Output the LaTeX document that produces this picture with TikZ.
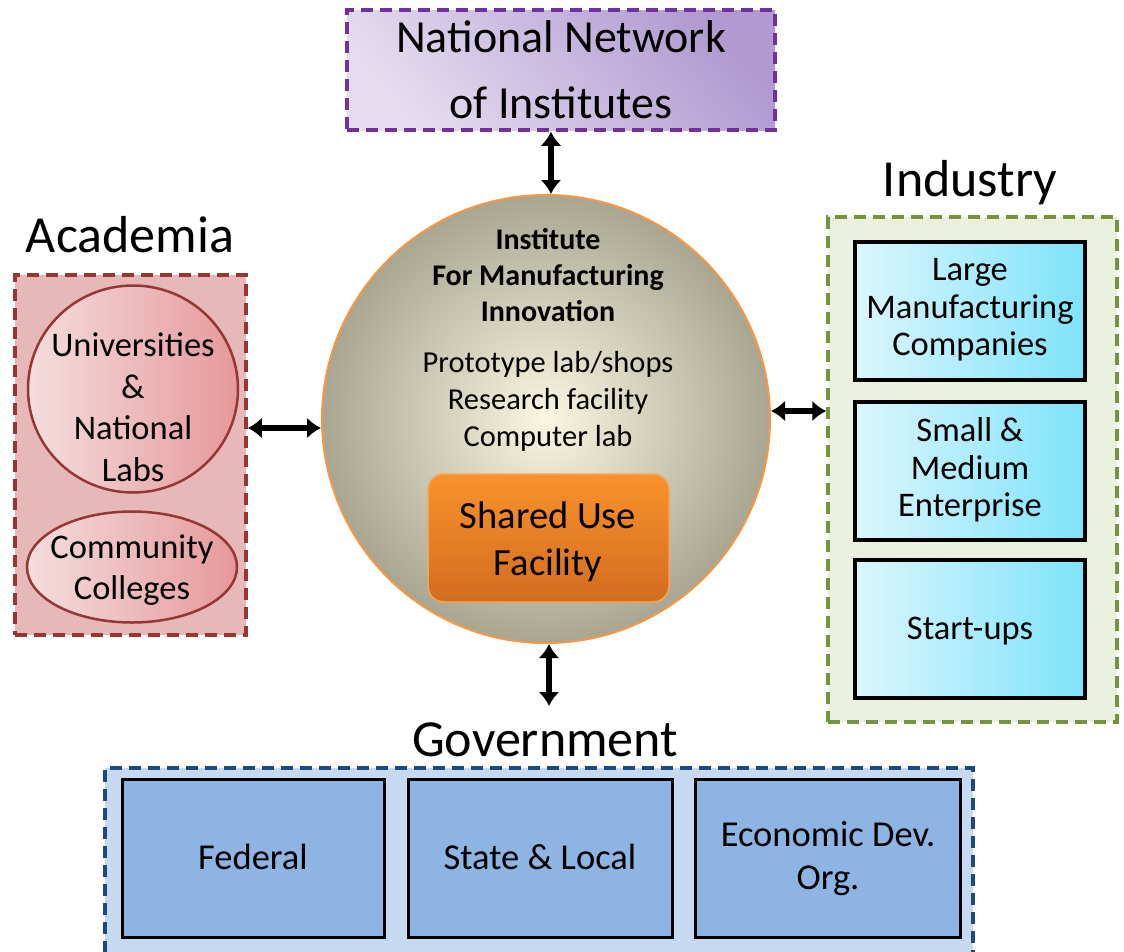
\documentclass[tikz,border=0pt]{standalone}
\usepackage{fontspec}
\setmainfont{Carlito}
\usetikzlibrary{arrows.meta,shapes.geometric,calc}
\definecolor{nniborder}{HTML}{7030A0}
\definecolor{nnidark}{HTML}{B09AD0}
\definecolor{nnilight}{HTML}{E5DCF0}
\definecolor{instedge}{HTML}{F79646}
\definecolor{instin}{HTML}{FBF6E2}
\definecolor{instout}{HTML}{A8A691}
\definecolor{suftop}{HTML}{F9922B}
\definecolor{sufbot}{HTML}{D26C20}
\definecolor{sufedge}{HTML}{F5A45A}
\definecolor{acadborder}{HTML}{953735}
\definecolor{acadfill}{HTML}{E6B9B8}
\definecolor{ellleft}{HTML}{F4DEDE}
\definecolor{ellright}{HTML}{E6989A}
\definecolor{indborder}{HTML}{77933C}
\definecolor{indfill}{HTML}{EBF1DE}
\definecolor{cyanleft}{HTML}{DCF6FD}
\definecolor{cyanright}{HTML}{7EE3FA}
\definecolor{govborder}{HTML}{1F497D}
\definecolor{govfill}{HTML}{C6D9F1}
\definecolor{govbox}{HTML}{8DB4E2}
\begin{document}
\begin{tikzpicture}[x=1pt,y=-1pt,
  groupbox/.style={rectangle, line width=3.5pt, dash pattern=on 12pt off 7pt, inner sep=0pt},
  titletext/.style={font=\fontsize{52}{56}\selectfont, inner sep=0pt},
  txt/.style={align=center, inner sep=0pt},
  cyanbox/.style={rectangle, draw=black, line width=3.5pt, left color=cyanleft, right color=cyanright, minimum width=230pt, minimum height=138pt, inner sep=0pt},
  govitem/.style={rectangle, draw=black, line width=3pt, fill=govbox, minimum height=158pt, inner sep=0pt},
  ellitem/.style={ellipse, draw=acadborder, line width=2.5pt, left color=ellleft, right color=ellright, minimum width=210pt, inner sep=0pt},
  dblarrow/.style={line width=5.5pt, {Latex[length=14pt,width=21pt]}-{Latex[length=14pt,width=21pt]}}
]
\useasboundingbox (0,0) rectangle (1124,951);
\clip (0,0) rectangle (1124,951);

% National Network of Institutes
\node[groupbox, draw=nniborder, shading=axis, top color=nnidark, bottom color=nnilight, shading angle=-50,
      minimum width=428pt, minimum height=120pt] (nni) at (561,70) {};
\node[txt, font=\fontsize{46}{66}\selectfont] (nnit) at (561,70) {National Network\\of Institutes};

% Institute circle
\node[circle, draw=instedge, line width=2pt, inner color=instin, outer color=instout,
      minimum size=448pt, inner sep=0pt] (inst) at (546,419) {};
\node[txt, font=\fontsize{30}{36}\selectfont\bfseries] (instt) at (548,275) {Institute\\For Manufacturing\\Innovation};
\node[txt, font=\fontsize{30.5}{37}\selectfont] (instl) at (548,401) {Prototype lab/shops\\Research facility\\Computer lab};
\node[rectangle, rounded corners=16pt, draw=sufedge, line width=1.5pt, top color=suftop, bottom color=sufbot,
      minimum width=241pt, minimum height=128pt, inner sep=0pt] (suf) at (548.5,538) {};
\node[txt, font=\fontsize{38.5}{47}\selectfont] (suft) at (548,542) {Shared Use\\Facility};

% Academia
\node[titletext] (acadt) at (130,235) {Academia};
\node[groupbox, draw=acadborder, fill=acadfill, minimum width=231pt, minimum height=360pt] (acad) at (130.5,455) {};
\node[ellitem, minimum height=207pt] (univ) at (133,389) {};
\node[txt, font=\fontsize{34.5}{41.5}\selectfont] (univt) at (133,407) {Universities\\\&\\National\\Labs};
\node[ellitem, minimum height=111pt] (cc) at (132,567) {};
\node[txt, font=\fontsize{34.5}{41.5}\selectfont] (cct) at (132,570) {Community\\Colleges};

% Industry
\node[titletext] (indt) at (970,183) {Industry};
\node[groupbox, draw=indborder, fill=indfill, minimum width=289pt, minimum height=505pt] (ind) at (972.5,469.5) {};
\node[cyanbox] (large) at (970,311) {};
\node[txt, font=\fontsize{34.5}{37.5}\selectfont] (larget) at (970,310) {Large\\Manufacturing\\Companies};
\node[cyanbox] (sme) at (970,471) {};
\node[txt, font=\fontsize{34.5}{37.5}\selectfont] (smet) at (970,470) {Small \&\\Medium\\Enterprise};
\node[cyanbox] (start) at (970,629) {};
\node[txt, font=\fontsize{34.5}{37.5}\selectfont] (startt) at (970,631) {Start-ups};

% Government
\node[titletext] (govt) at (545,740) {Government};
\node[groupbox, draw=govborder, fill=govfill, minimum width=868pt, minimum height=200pt] (gov) at (539,868) {};
\node[govitem, minimum width=262pt] (fed) at (253,858) {};
\node[txt, font=\fontsize{36.5}{43}\selectfont] (fedt) at (253,857) {Federal};
\node[govitem, minimum width=264pt] (state) at (540,858) {};
\node[txt, font=\fontsize{36.5}{43}\selectfont] (statet) at (540,857) {State \& Local};
\node[govitem, minimum width=265pt] (econ) at (827.5,858) {};
\node[txt, font=\fontsize{36.5}{43}\selectfont] (econt) at (828,859) {Economic Dev.\\Org.};

% Connectors
\coordinate (govtop) at (549,706);
\draw[dblarrow] (nni.south -| 551,0) -- (inst.north -| 551,0);
\draw[dblarrow] (acad.east |- 0,428) -- (inst.west |- 0,428);
\draw[dblarrow] (inst.east |- 0,411) -- (ind.west |- 0,411);
\draw[dblarrow] (inst.south -| govtop) -- (govtop);
\end{tikzpicture}
\end{document}
